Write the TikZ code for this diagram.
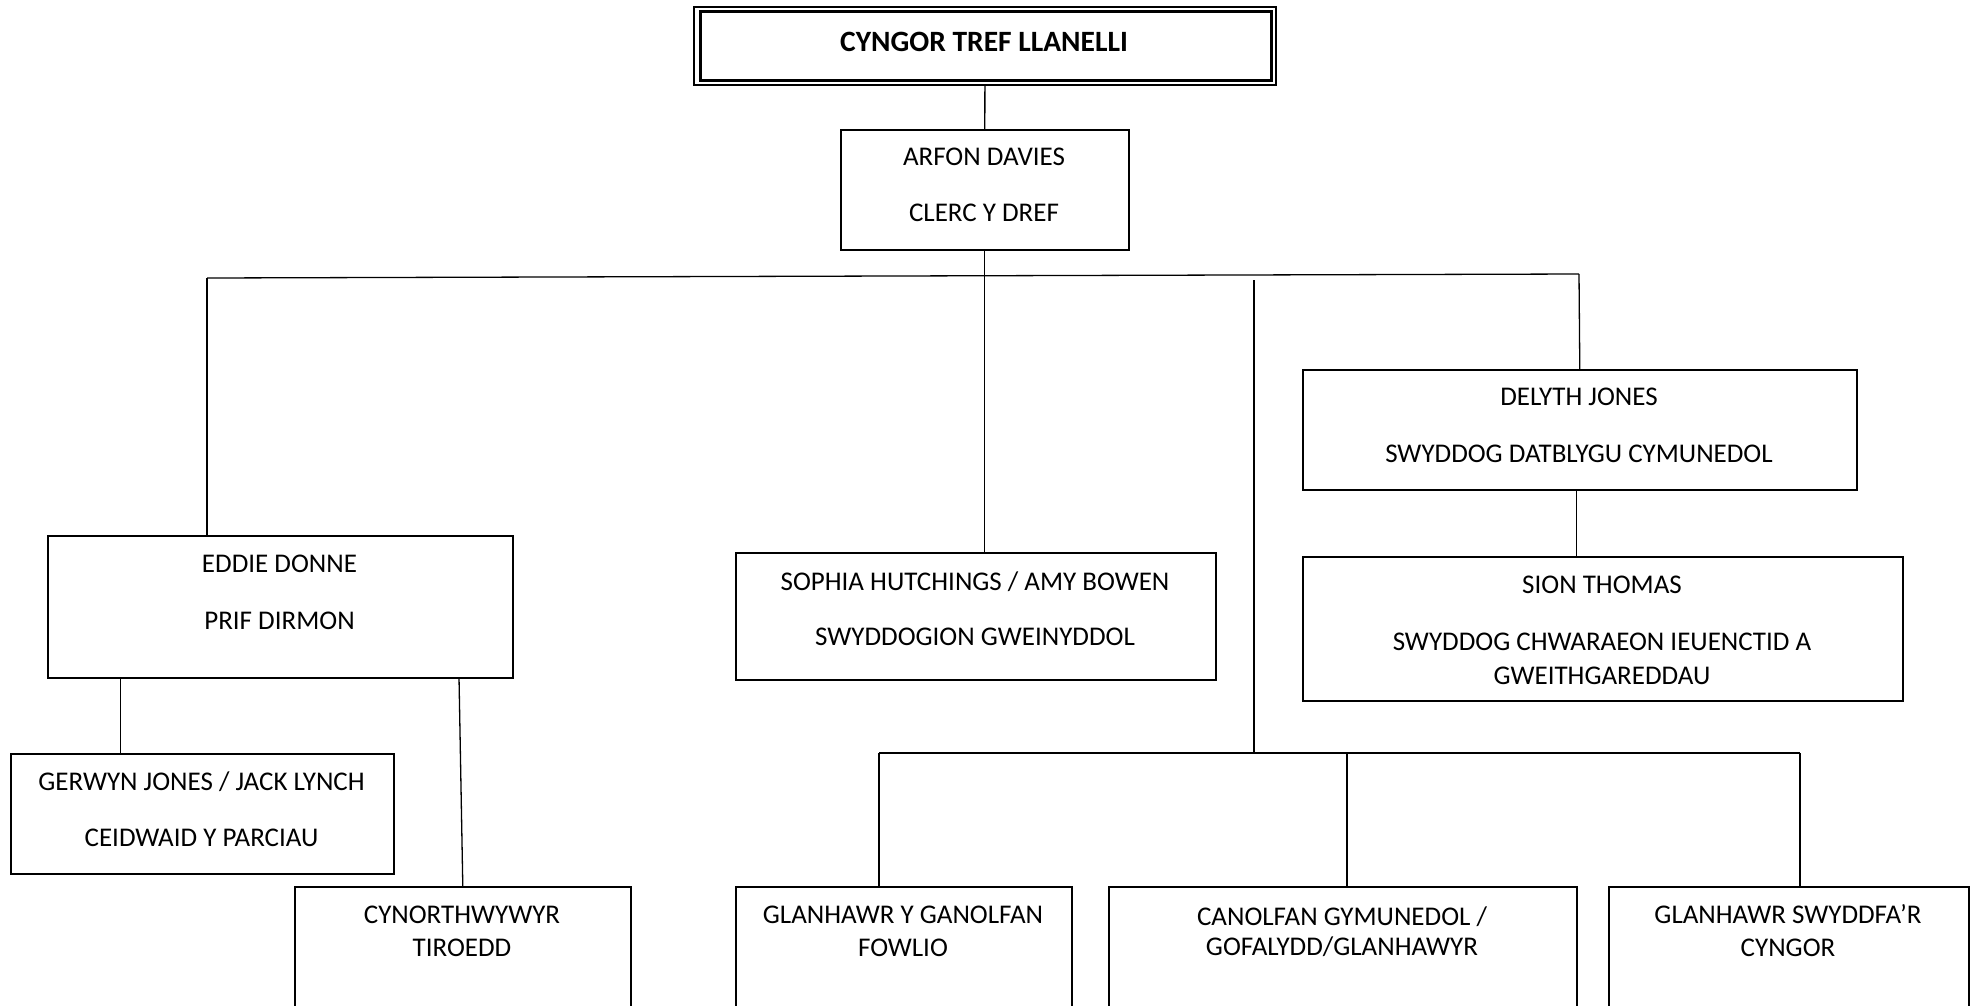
\documentclass[tikz,border=0pt]{standalone}
\usepackage{fontspec}
\setmainfont{Carlito}

\begin{document}
\begin{tikzpicture}[x=1pt, y=-1pt,
    postbox/.style={draw, rectangle, line width=1.6pt, anchor=north west, inner sep=0pt},
    linkline/.style={line width=1.3pt},
    roletext/.style={anchor=base, inner sep=0pt, font=\fontsize{27}{32}\selectfont}]
  \clip (0,0) rectangle (1975,1005);

  % council and clerk
  \node[postbox, line width=1.8pt, minimum width=582pt, minimum height=78pt] (council) at (693,6) {};
  \draw[line width=3pt] ([shift={(7,5)}]council.north west) rectangle ([shift={(-5,-5)}]council.south east);
  \node[roletext, font=\fontsize{29.5}{34}\selectfont\bfseries] (council-name) at (984,51) {CYNGOR TREF LLANELLI};

  \node[postbox, minimum width=288pt, minimum height=120pt] (clerc) at (840,129) {};
  \node[roletext] (clerc-name) at (984,165) {ARFON DAVIES};
  \node[roletext] (clerc-role) at (984,221) {CLERC Y DREF};

  % second row
  \node[postbox, minimum width=554pt, minimum height=120pt] (delyth) at (1302,369) {};
  \node[roletext] (delyth-name) at (1579,405) {DELYTH JONES};
  \node[roletext] (delyth-role) at (1579,462) {SWYDDOG DATBLYGU CYMUNEDOL};

  \node[postbox, minimum width=600pt, minimum height=144pt] (sion) at (1302,556) {};
  \node[roletext] (sion-name) at (1602,593) {SION THOMAS};
  \node[roletext] (sion-role) at (1602,650) {SWYDDOG CHWARAEON IEUENCTID A};
  \node[roletext] (sion-role2) at (1602,684) {GWEITHGAREDDAU};

  \node[postbox, minimum width=480pt, minimum height=127pt] (sophia) at (735,552) {};
  \node[roletext] (sophia-name) at (975,590) {SOPHIA HUTCHINGS / AMY BOWEN};
  \node[roletext] (sophia-role) at (975,645) {SWYDDOGION GWEINYDDOL};

  \node[postbox, minimum width=465pt, minimum height=142pt] (eddie) at (47,535) {};
  \node[roletext] (eddie-name) at (279.5,572) {EDDIE DONNE};
  \node[roletext] (eddie-role) at (279.5,629) {PRIF DIRMON};

  % under the head warden
  \node[postbox, minimum width=383pt, minimum height=120pt] (gerwyn) at (10,753) {};
  \node[roletext] (gerwyn-name) at (201.5,790) {GERWYN JONES / JACK LYNCH};
  \node[roletext] (gerwyn-role) at (201.5,846) {CEIDWAID Y PARCIAU};

  \node[postbox, minimum width=336pt, minimum height=160pt] (tiroedd) at (294,886) {};
  \node[roletext] (tiroedd-role) at (462,923) {CYNORTHWYWYR};
  \node[roletext] (tiroedd-role2) at (462,956) {TIROEDD};

  % cleaners row
  \node[postbox, minimum width=336pt, minimum height=160pt] (fowlio) at (735,886) {};
  \node[roletext] (fowlio-role) at (903,923) {GLANHAWR Y GANOLFAN};
  \node[roletext] (fowlio-role2) at (903,956) {FOWLIO};

  \node[postbox, minimum width=468pt, minimum height=160pt] (canolfan) at (1108,886) {};
  \node[roletext] (canolfan-role) at (1342,925) {CANOLFAN GYMUNEDOL /};
  \node[roletext] (canolfan-role2) at (1342,955) {GOFALYDD/GLANHAWYR};

  \node[postbox, minimum width=360pt, minimum height=160pt] (swyddfa) at (1608,886) {};
  \node[roletext] (swyddfa-role) at (1788,923) {GLANHAWR SWYDDFA’R};
  \node[roletext] (swyddfa-role2) at (1788,956) {CYNGOR};

  % connectors
  \coordinate (busL) at (207,278);
  \coordinate (busR) at (1579,274);
  \coordinate (tap) at (1254,280);
  \coordinate (lowL) at (879,753);
  \coordinate (lowR) at (1800,753);
  \coordinate (lowM) at (1347,753);
  \coordinate (eddieL) at (120.5,677);
  \coordinate (eddieR) at (459,677);

  \draw[linkline] (council.south) -- (clerc.north);
  \draw[linkline] (clerc.south) -- (clerc.south |- sophia.north);
  \draw[linkline] (busL) -- (busR);
  \draw[linkline] (busL) -- (busL |- eddie.north);
  \draw[linkline] (busR) -- (delyth.north);
  \draw[linkline] ([xshift=-3pt]delyth.south) -- ([xshift=-3pt]delyth.south |- sion.north);
  \draw[linkline] (tap) -- (tap |- lowL);
  \draw[linkline] (lowL) -- (lowR);
  \draw[linkline] (lowL) -- (lowL |- fowlio.north);
  \draw[linkline] (lowM) -- (lowM |- canolfan.north);
  \draw[linkline] (lowR) -- (lowR |- swyddfa.north);
  \draw[linkline] (eddieL) -- (eddieL |- gerwyn.north);
  \draw[linkline] (eddieR) -- (tiroedd.north);
\end{tikzpicture}
\end{document}
